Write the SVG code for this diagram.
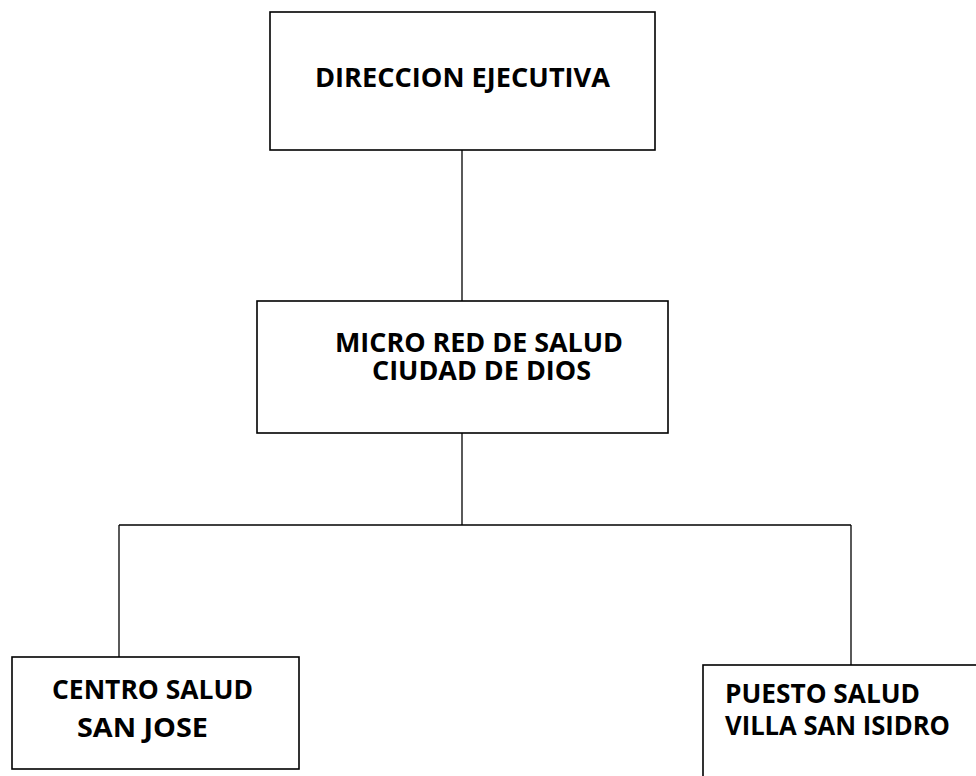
<svg xmlns="http://www.w3.org/2000/svg" width="976" height="776" viewBox="0 0 976 776">
<style>
.box{fill:#fff;stroke:#000;stroke-width:1.6}
.ln{stroke:#000;stroke-width:1.3;fill:none}
.t{font-family:"Open Sans","Liberation Sans",sans-serif;font-weight:bold;font-size:27px;fill:#000}
</style>
<rect width="976" height="776" fill="#fff"/>
<g id="connectors">
<line class="ln" x1="462" y1="150" x2="462" y2="301"/>
<line class="ln" x1="462" y1="433" x2="462" y2="525"/>
<line class="ln" x1="119" y1="525" x2="851" y2="525"/>
<line class="ln" x1="119" y1="525" x2="119" y2="657"/>
<line class="ln" x1="851" y1="525" x2="851" y2="665"/>
</g>
<g id="direccion">
<rect class="box" x="270" y="12" width="385" height="138"/>
<text class="t" x="315" y="87" textLength="295" lengthAdjust="spacingAndGlyphs">DIRECCION EJECUTIVA</text>
</g>
<g id="microred">
<rect class="box" x="257" y="301" width="411" height="132"/>
<text class="t" x="335" y="352" textLength="288" lengthAdjust="spacingAndGlyphs">MICRO RED DE SALUD</text>
<text class="t" x="372" y="380" textLength="219" lengthAdjust="spacingAndGlyphs">CIUDAD DE DIOS</text>
</g>
<g id="centro">
<rect class="box" x="12" y="657" width="287" height="112"/>
<text class="t" x="52" y="699" textLength="201" lengthAdjust="spacingAndGlyphs">CENTRO SALUD</text>
<text class="t" x="77" y="737" textLength="131" lengthAdjust="spacingAndGlyphs">SAN  JOSE</text>
</g>
<g id="puesto">
<rect class="box" x="703" y="665" width="280" height="130"/>
<text class="t" x="725" y="703" textLength="195" lengthAdjust="spacingAndGlyphs">PUESTO SALUD</text>
<text class="t" x="725" y="735" textLength="225" lengthAdjust="spacingAndGlyphs">VILLA SAN ISIDRO</text>
</g>
</svg>
